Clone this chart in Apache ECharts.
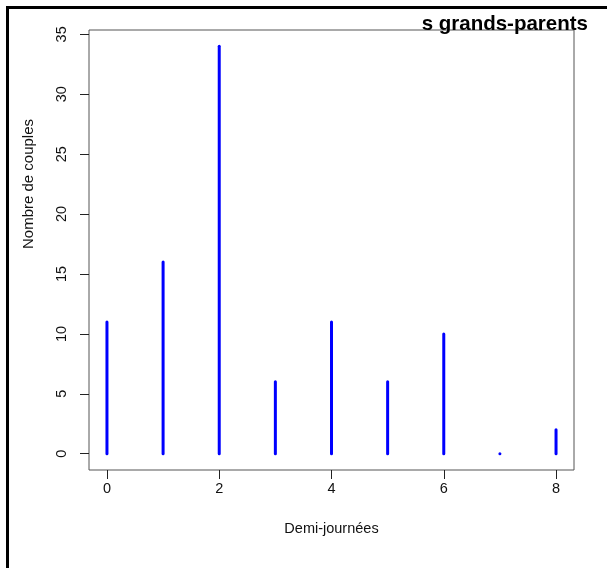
<!DOCTYPE html>
<html><head><meta charset="utf-8">
<script src="https://cdn.jsdelivr.net/npm/echarts@6/dist/echarts.min.js"></script>
<style>html,body{margin:0;padding:0;background:#fff}#c{width:607px;height:568px}</style>
</head><body><div id="c"></div>
<script>
const categories = [0, 1, 2, 3, 4, 5, 6, 7, 8];
const couples = [11, 16, 34, 6, 11, 6, 10, 0, 2];
const xTicks = [0, 2, 4, 6, 8];
const yTicks = [0, 5, 10, 15, 20, 25, 30, 35];
const titleText = 's grands-parents';
const xName = 'Demi-journées';
const yName = 'Nombre de couples';

const FONT = '"Liberation Sans", Arial, sans-serif';
// R-style 4% range extension
const xMin = 0 - 0.04 * 8, xMax = 8 + 0.04 * 8;
const yMin = 0 - 0.04 * 34, yMax = 34 + 0.04 * 34;
const chart = echarts.init(document.getElementById('c'), null, {renderer: 'canvas'});
chart.setOption({
  animation: false,
  title: {text: titleText, right: 14, top: 9, textStyle: {fontFamily: FONT, fontSize: 20.5, fontWeight: 'bold', color: '#000'}},
  graphic: [
    {type: 'line', shape: {x1: 6, y1: 7.5, x2: 607, y2: 7.5}, style: {stroke: '#000', lineWidth: 3}},
    {type: 'line', shape: {x1: 7.5, y1: 6, x2: 7.5, y2: 568}, style: {stroke: '#000', lineWidth: 3}},
    {type: 'text', x: 29, y: 184, rotation: Math.PI / 2,
     style: {text: yName, align: 'center', verticalAlign: 'middle', font: '15px "Liberation Sans", Arial, sans-serif', fill: '#111'}}
  ],
  grid: [
    {left: 89, top: 30, width: 485, height: 440, show: true, borderColor: '#555', borderWidth: 1, backgroundColor: 'transparent', outerBoundsMode: 'none', containLabel: false}
  ],
  xAxis: {type: 'value', min: xMin, max: xMax,
     axisLine: {show: false, onZero: false}, splitLine: {show: false},
     axisTick: {show: true, length: 9, customValues: xTicks, lineStyle: {color: '#222'}},
     axisLabel: {margin: 11, customValues: xTicks, fontFamily: FONT, fontSize: 14.5, color: '#111'},
     name: xName, nameLocation: 'middle', nameGap: 51, nameTextStyle: {fontFamily: FONT, fontSize: 14.5, color: '#111'}},
  yAxis: {type: 'value', min: yMin, max: yMax,
     axisLine: {show: false, onZero: false}, splitLine: {show: false},
     axisTick: {show: true, length: 9, customValues: yTicks, lineStyle: {color: '#222'}},
     axisLabel: {margin: 27, rotate: 90, customValues: yTicks, fontFamily: FONT, fontSize: 14.5, color: '#111', align: 'center', verticalAlign: 'middle'}},
  series: [{
    type: 'custom',
    data: categories.map((c, i) => [c, couples[i]]),
    renderItem: function (params, api) {
      const p0 = api.coord([api.value(0), 0]);
      const p1 = api.coord([api.value(0), api.value(1)]);
      return {type: 'line', shape: {x1: p0[0], y1: p0[1], x2: p1[0], y2: p1[1] - (p0[1] === p1[1] ? 0.01 : 0)},
              style: {stroke: '#0000ff', lineWidth: 3, lineCap: 'round'}};
    }
  }]
});
</script></body></html>
